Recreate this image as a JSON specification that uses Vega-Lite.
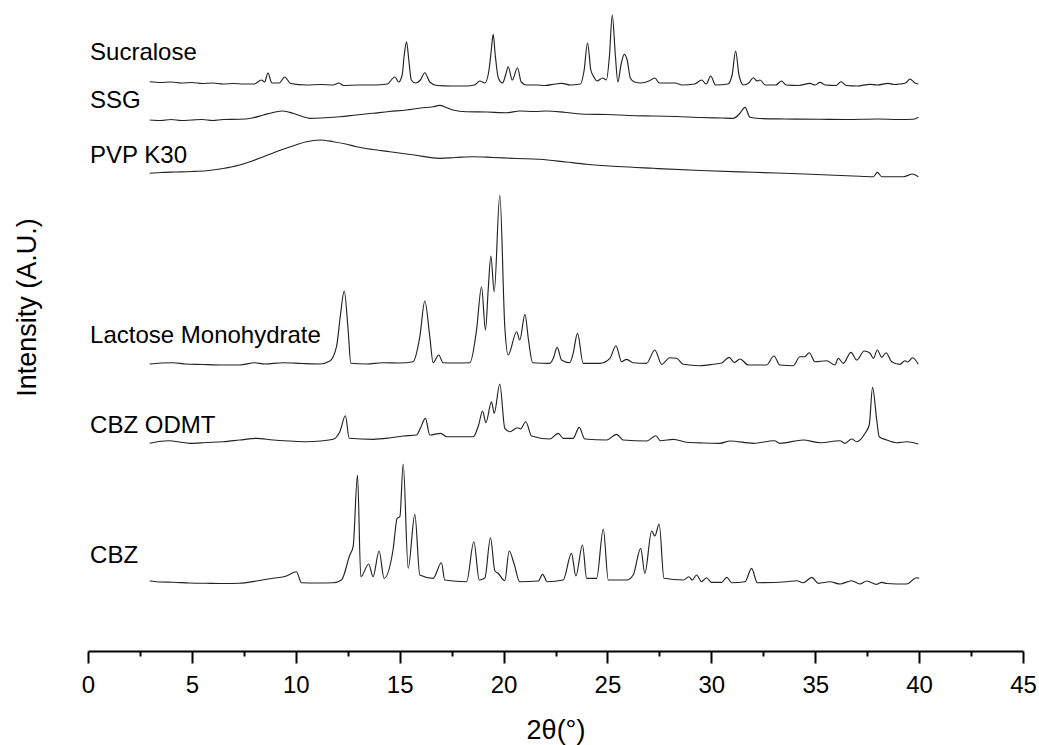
{
"$schema": "https://vega.github.io/schema/vega-lite/v6.json",
"width": 935, "height": 651,
"autosize": {"type": "none"},
"padding": {"left": 88, "top": 0, "right": 16, "bottom": 94},
"config": {"view": {"stroke": null}, "font": "Liberation Sans"},
"datasets": {
"traces": [
{"s":"Sucralose","x":2.97,"y":569.3},{"s":"Sucralose","x":3.5,"y":568.5},{"s":"Sucralose","x":4.0,"y":569},{"s":"Sucralose","x":4.5,"y":568},{"s":"Sucralose","x":5.0,"y":568.5},{"s":"Sucralose","x":5.5,"y":567.5},{"s":"Sucralose","x":6.0,"y":568},{"s":"Sucralose","x":6.5,"y":567},{"s":"Sucralose","x":7.0,"y":567.5},{"s":"Sucralose","x":7.5,"y":567},{"s":"Sucralose","x":8.0,"y":567},{"s":"Sucralose","x":8.35,"y":571},{"s":"Sucralose","x":8.5,"y":569},{"s":"Sucralose","x":8.66,"y":578},{"s":"Sucralose","x":8.85,"y":568},{"s":"Sucralose","x":9.2,"y":568},{"s":"Sucralose","x":9.47,"y":574},{"s":"Sucralose","x":9.75,"y":567.5},{"s":"Sucralose","x":10.5,"y":566},{"s":"Sucralose","x":11.2,"y":566.5},{"s":"Sucralose","x":11.8,"y":566},{"s":"Sucralose","x":12.07,"y":568},{"s":"Sucralose","x":12.3,"y":565.5},{"s":"Sucralose","x":13.0,"y":566},{"s":"Sucralose","x":13.8,"y":566},{"s":"Sucralose","x":14.4,"y":567},{"s":"Sucralose","x":14.77,"y":574},{"s":"Sucralose","x":14.95,"y":569},{"s":"Sucralose","x":15.12,"y":576},{"s":"Sucralose","x":15.22,"y":596},{"s":"Sucralose","x":15.33,"y":609.3},{"s":"Sucralose","x":15.44,"y":591},{"s":"Sucralose","x":15.56,"y":571},{"s":"Sucralose","x":15.75,"y":568},{"s":"Sucralose","x":16.0,"y":571},{"s":"Sucralose","x":16.21,"y":578.3},{"s":"Sucralose","x":16.45,"y":569},{"s":"Sucralose","x":16.8,"y":565.5},{"s":"Sucralose","x":17.5,"y":565},{"s":"Sucralose","x":18.2,"y":565},{"s":"Sucralose","x":18.6,"y":566},{"s":"Sucralose","x":18.86,"y":570},{"s":"Sucralose","x":19.1,"y":568},{"s":"Sucralose","x":19.3,"y":581},{"s":"Sucralose","x":19.42,"y":603},{"s":"Sucralose","x":19.5,"y":616.7},{"s":"Sucralose","x":19.6,"y":596},{"s":"Sucralose","x":19.75,"y":573},{"s":"Sucralose","x":19.95,"y":568},{"s":"Sucralose","x":20.1,"y":576},{"s":"Sucralose","x":20.22,"y":584.3},{"s":"Sucralose","x":20.42,"y":571},{"s":"Sucralose","x":20.67,"y":583.3},{"s":"Sucralose","x":20.85,"y":569},{"s":"Sucralose","x":21.1,"y":566},{"s":"Sucralose","x":21.6,"y":566},{"s":"Sucralose","x":22.0,"y":565.5},{"s":"Sucralose","x":22.5,"y":567},{"s":"Sucralose","x":22.8,"y":567.7},{"s":"Sucralose","x":23.2,"y":566},{"s":"Sucralose","x":23.7,"y":567},{"s":"Sucralose","x":23.88,"y":581},{"s":"Sucralose","x":24.04,"y":608.3},{"s":"Sucralose","x":24.2,"y":581},{"s":"Sucralose","x":24.35,"y":574},{"s":"Sucralose","x":24.5,"y":570},{"s":"Sucralose","x":24.77,"y":573},{"s":"Sucralose","x":24.95,"y":571},{"s":"Sucralose","x":25.1,"y":596},{"s":"Sucralose","x":25.23,"y":636},{"s":"Sucralose","x":25.38,"y":596},{"s":"Sucralose","x":25.5,"y":569},{"s":"Sucralose","x":25.65,"y":586},{"s":"Sucralose","x":25.81,"y":596.7},{"s":"Sucralose","x":25.95,"y":591},{"s":"Sucralose","x":26.1,"y":573},{"s":"Sucralose","x":26.3,"y":569},{"s":"Sucralose","x":26.6,"y":568},{"s":"Sucralose","x":27.0,"y":570},{"s":"Sucralose","x":27.28,"y":573},{"s":"Sucralose","x":27.5,"y":568},{"s":"Sucralose","x":28.25,"y":568},{"s":"Sucralose","x":28.6,"y":566},{"s":"Sucralose","x":29.2,"y":567},{"s":"Sucralose","x":29.53,"y":571},{"s":"Sucralose","x":29.75,"y":567},{"s":"Sucralose","x":29.97,"y":575},{"s":"Sucralose","x":30.2,"y":566},{"s":"Sucralose","x":30.8,"y":567},{"s":"Sucralose","x":31.0,"y":576},{"s":"Sucralose","x":31.17,"y":600},{"s":"Sucralose","x":31.33,"y":576},{"s":"Sucralose","x":31.55,"y":566},{"s":"Sucralose","x":31.8,"y":568},{"s":"Sucralose","x":32.02,"y":573.3},{"s":"Sucralose","x":32.2,"y":570},{"s":"Sucralose","x":32.34,"y":571},{"s":"Sucralose","x":32.6,"y":566},{"s":"Sucralose","x":33.1,"y":566},{"s":"Sucralose","x":33.38,"y":570},{"s":"Sucralose","x":33.6,"y":566},{"s":"Sucralose","x":34.2,"y":565.5},{"s":"Sucralose","x":34.75,"y":567.7},{"s":"Sucralose","x":35.0,"y":566},{"s":"Sucralose","x":35.23,"y":568.7},{"s":"Sucralose","x":35.5,"y":566},{"s":"Sucralose","x":36.0,"y":565.5},{"s":"Sucralose","x":36.24,"y":569.3},{"s":"Sucralose","x":36.5,"y":565.5},{"s":"Sucralose","x":37.0,"y":565},{"s":"Sucralose","x":37.64,"y":566.7},{"s":"Sucralose","x":38.0,"y":566},{"s":"Sucralose","x":38.52,"y":567.7},{"s":"Sucralose","x":38.8,"y":566.5},{"s":"Sucralose","x":39.08,"y":567},{"s":"Sucralose","x":39.35,"y":568},{"s":"Sucralose","x":39.56,"y":572},{"s":"Sucralose","x":39.8,"y":568},{"s":"Sucralose","x":39.96,"y":567},
{"s":"SSG","x":2.97,"y":531},{"s":"SSG","x":3.5,"y":530.5},{"s":"SSG","x":4.0,"y":531.5},{"s":"SSG","x":4.5,"y":530.5},{"s":"SSG","x":5.0,"y":531},{"s":"SSG","x":5.5,"y":531.5},{"s":"SSG","x":6.0,"y":530.5},{"s":"SSG","x":6.5,"y":531.5},{"s":"SSG","x":7.3,"y":531.7},{"s":"SSG","x":7.9,"y":533},{"s":"SSG","x":8.44,"y":536},{"s":"SSG","x":8.9,"y":538.5},{"s":"SSG","x":9.39,"y":540},{"s":"SSG","x":9.87,"y":537.7},{"s":"SSG","x":10.35,"y":534.3},{"s":"SSG","x":10.67,"y":532.7},{"s":"SSG","x":11.2,"y":533},{"s":"SSG","x":12.12,"y":534.3},{"s":"SSG","x":12.9,"y":536},{"s":"SSG","x":13.7,"y":537.7},{"s":"SSG","x":14.5,"y":539.5},{"s":"SSG","x":15.33,"y":541},{"s":"SSG","x":16.0,"y":543},{"s":"SSG","x":16.61,"y":544.3},{"s":"SSG","x":16.93,"y":545.7},{"s":"SSG","x":17.25,"y":543.5},{"s":"SSG","x":17.57,"y":541},{"s":"SSG","x":18.22,"y":539.3},{"s":"SSG","x":19.2,"y":539},{"s":"SSG","x":20.14,"y":538.3},{"s":"SSG","x":20.78,"y":540},{"s":"SSG","x":21.5,"y":539.5},{"s":"SSG","x":22.07,"y":540},{"s":"SSG","x":23.0,"y":538.5},{"s":"SSG","x":24.0,"y":536.7},{"s":"SSG","x":25.0,"y":536.5},{"s":"SSG","x":26.0,"y":535.5},{"s":"SSG","x":27.2,"y":535},{"s":"SSG","x":28.3,"y":534.5},{"s":"SSG","x":29.5,"y":533.5},{"s":"SSG","x":30.5,"y":533},{"s":"SSG","x":31.05,"y":532.7},{"s":"SSG","x":31.35,"y":537},{"s":"SSG","x":31.62,"y":543.7},{"s":"SSG","x":31.86,"y":533.7},{"s":"SSG","x":32.3,"y":532.5},{"s":"SSG","x":33.5,"y":532},{"s":"SSG","x":35.23,"y":531.7},{"s":"SSG","x":36.5,"y":531.5},{"s":"SSG","x":38.0,"y":532},{"s":"SSG","x":39.0,"y":531.5},{"s":"SSG","x":39.72,"y":531.7},{"s":"SSG","x":39.96,"y":533.7},
{"s":"PVP K30","x":2.97,"y":477.7},{"s":"PVP K30","x":3.5,"y":478.5},{"s":"PVP K30","x":4.2,"y":479},{"s":"PVP K30","x":5.0,"y":479.5},{"s":"PVP K30","x":5.7,"y":480.3},{"s":"PVP K30","x":6.5,"y":482.5},{"s":"PVP K30","x":7.3,"y":486},{"s":"PVP K30","x":7.9,"y":490},{"s":"PVP K30","x":8.44,"y":494.3},{"s":"PVP K30","x":9.39,"y":501.7},{"s":"PVP K30","x":10.0,"y":506},{"s":"PVP K30","x":10.51,"y":509.3},{"s":"PVP K30","x":11.16,"y":511},{"s":"PVP K30","x":11.8,"y":509.3},{"s":"PVP K30","x":12.4,"y":507},{"s":"PVP K30","x":12.92,"y":504.3},{"s":"PVP K30","x":13.7,"y":501.5},{"s":"PVP K30","x":14.53,"y":499.3},{"s":"PVP K30","x":15.7,"y":496},{"s":"PVP K30","x":16.93,"y":492.7},{"s":"PVP K30","x":17.7,"y":493.5},{"s":"PVP K30","x":18.54,"y":494.3},{"s":"PVP K30","x":19.5,"y":493.5},{"s":"PVP K30","x":20.6,"y":492.5},{"s":"PVP K30","x":21.75,"y":491.7},{"s":"PVP K30","x":23.0,"y":489},{"s":"PVP K30","x":24.0,"y":486.7},{"s":"PVP K30","x":25.5,"y":484.5},{"s":"PVP K30","x":27.2,"y":482.7},{"s":"PVP K30","x":29.5,"y":480.5},{"s":"PVP K30","x":32.02,"y":478.7},{"s":"PVP K30","x":34.5,"y":477},{"s":"PVP K30","x":36.83,"y":475},{"s":"PVP K30","x":37.8,"y":474.3},{"s":"PVP K30","x":37.99,"y":478.7},{"s":"PVP K30","x":38.2,"y":474.3},{"s":"PVP K30","x":39.24,"y":474.3},{"s":"PVP K30","x":39.69,"y":477},{"s":"PVP K30","x":39.96,"y":474.3},
{"s":"Lactose","x":2.97,"y":287},{"s":"Lactose","x":3.5,"y":288},{"s":"Lactose","x":4.09,"y":288.3},{"s":"Lactose","x":4.7,"y":287},{"s":"Lactose","x":5.5,"y":286.5},{"s":"Lactose","x":6.4,"y":286},{"s":"Lactose","x":7.3,"y":286},{"s":"Lactose","x":8.03,"y":288.3},{"s":"Lactose","x":8.5,"y":287},{"s":"Lactose","x":9.39,"y":288.3},{"s":"Lactose","x":10.3,"y":287.5},{"s":"Lactose","x":11.16,"y":287},{"s":"Lactose","x":11.64,"y":290},{"s":"Lactose","x":11.96,"y":304.3},{"s":"Lactose","x":12.15,"y":336},{"s":"Lactose","x":12.33,"y":360},{"s":"Lactose","x":12.52,"y":321},{"s":"Lactose","x":12.65,"y":287.7},{"s":"Lactose","x":13.4,"y":287},{"s":"Lactose","x":14.2,"y":288.3},{"s":"Lactose","x":15.0,"y":288},{"s":"Lactose","x":15.65,"y":289.3},{"s":"Lactose","x":15.97,"y":314.3},{"s":"Lactose","x":16.21,"y":350},{"s":"Lactose","x":16.45,"y":314.3},{"s":"Lactose","x":16.61,"y":288.3},{"s":"Lactose","x":16.88,"y":296},{"s":"Lactose","x":17.09,"y":288.3},{"s":"Lactose","x":17.7,"y":288},{"s":"Lactose","x":18.38,"y":288.3},{"s":"Lactose","x":18.7,"y":321},{"s":"Lactose","x":18.94,"y":364.3},{"s":"Lactose","x":19.13,"y":321},{"s":"Lactose","x":19.26,"y":361},{"s":"Lactose","x":19.39,"y":395},{"s":"Lactose","x":19.55,"y":359.3},{"s":"Lactose","x":19.82,"y":456},{"s":"Lactose","x":20.06,"y":324.3},{"s":"Lactose","x":20.22,"y":296},{"s":"Lactose","x":20.63,"y":319.3},{"s":"Lactose","x":20.78,"y":311},{"s":"Lactose","x":21.03,"y":336.7},{"s":"Lactose","x":21.2,"y":311},{"s":"Lactose","x":21.4,"y":288.3},{"s":"Lactose","x":22.23,"y":287.7},{"s":"Lactose","x":22.4,"y":293},{"s":"Lactose","x":22.58,"y":303.7},{"s":"Lactose","x":22.79,"y":291},{"s":"Lactose","x":23.19,"y":288.3},{"s":"Lactose","x":23.35,"y":297.7},{"s":"Lactose","x":23.56,"y":317.7},{"s":"Lactose","x":23.83,"y":287.7},{"s":"Lactose","x":24.64,"y":287.7},{"s":"Lactose","x":25.12,"y":292.7},{"s":"Lactose","x":25.41,"y":305.3},{"s":"Lactose","x":25.68,"y":289.3},{"s":"Lactose","x":25.92,"y":291.7},{"s":"Lactose","x":26.24,"y":288.3},{"s":"Lactose","x":26.88,"y":287.7},{"s":"Lactose","x":27.28,"y":301},{"s":"Lactose","x":27.61,"y":286.7},{"s":"Lactose","x":28.0,"y":293.3},{"s":"Lactose","x":28.33,"y":292.7},{"s":"Lactose","x":28.65,"y":286.7},{"s":"Lactose","x":29.45,"y":285.3},{"s":"Lactose","x":30.09,"y":286.7},{"s":"Lactose","x":30.5,"y":288},{"s":"Lactose","x":30.86,"y":293.7},{"s":"Lactose","x":31.1,"y":288.5},{"s":"Lactose","x":31.38,"y":292},{"s":"Lactose","x":31.78,"y":286},{"s":"Lactose","x":32.66,"y":286},{"s":"Lactose","x":33.01,"y":295},{"s":"Lactose","x":33.3,"y":286},{"s":"Lactose","x":33.94,"y":285.3},{"s":"Lactose","x":34.26,"y":294.3},{"s":"Lactose","x":34.5,"y":294.3},{"s":"Lactose","x":34.71,"y":298.3},{"s":"Lactose","x":34.99,"y":289.3},{"s":"Lactose","x":35.55,"y":290.3},{"s":"Lactose","x":35.95,"y":286},{"s":"Lactose","x":36.11,"y":292.7},{"s":"Lactose","x":36.35,"y":287.7},{"s":"Lactose","x":36.72,"y":298.7},{"s":"Lactose","x":37.0,"y":291},{"s":"Lactose","x":37.36,"y":300},{"s":"Lactose","x":37.64,"y":297.7},{"s":"Lactose","x":37.8,"y":292.7},{"s":"Lactose","x":37.99,"y":301},{"s":"Lactose","x":38.2,"y":293.7},{"s":"Lactose","x":38.41,"y":298.3},{"s":"Lactose","x":38.68,"y":289.3},{"s":"Lactose","x":39.08,"y":286.7},{"s":"Lactose","x":39.32,"y":290.3},{"s":"Lactose","x":39.45,"y":289},{"s":"Lactose","x":39.69,"y":293.3},{"s":"Lactose","x":39.96,"y":286.7},
{"s":"CBZ ODMT","x":2.97,"y":207.7},{"s":"CBZ ODMT","x":3.4,"y":209.5},{"s":"CBZ ODMT","x":3.93,"y":210.3},{"s":"CBZ ODMT","x":4.4,"y":209},{"s":"CBZ ODMT","x":4.9,"y":207.7},{"s":"CBZ ODMT","x":5.7,"y":208.5},{"s":"CBZ ODMT","x":6.5,"y":209.3},{"s":"CBZ ODMT","x":7.3,"y":211},{"s":"CBZ ODMT","x":8.11,"y":212.7},{"s":"CBZ ODMT","x":8.91,"y":211},{"s":"CBZ ODMT","x":9.7,"y":210},{"s":"CBZ ODMT","x":10.51,"y":209.3},{"s":"CBZ ODMT","x":11.2,"y":210},{"s":"CBZ ODMT","x":11.8,"y":211.7},{"s":"CBZ ODMT","x":12.12,"y":219.3},{"s":"CBZ ODMT","x":12.39,"y":235.3},{"s":"CBZ ODMT","x":12.57,"y":212.7},{"s":"CBZ ODMT","x":13.72,"y":211.7},{"s":"CBZ ODMT","x":14.5,"y":213},{"s":"CBZ ODMT","x":15.17,"y":215},{"s":"CBZ ODMT","x":15.81,"y":216},{"s":"CBZ ODMT","x":16.0,"y":223},{"s":"CBZ ODMT","x":16.24,"y":232.7},{"s":"CBZ ODMT","x":16.45,"y":216},{"s":"CBZ ODMT","x":16.98,"y":217.7},{"s":"CBZ ODMT","x":17.26,"y":214.3},{"s":"CBZ ODMT","x":18.54,"y":214.3},{"s":"CBZ ODMT","x":18.8,"y":226},{"s":"CBZ ODMT","x":18.99,"y":240},{"s":"CBZ ODMT","x":19.15,"y":228.3},{"s":"CBZ ODMT","x":19.42,"y":249.3},{"s":"CBZ ODMT","x":19.55,"y":237.7},{"s":"CBZ ODMT","x":19.82,"y":267},{"s":"CBZ ODMT","x":20.06,"y":222.7},{"s":"CBZ ODMT","x":20.3,"y":219.3},{"s":"CBZ ODMT","x":20.67,"y":223.3},{"s":"CBZ ODMT","x":20.82,"y":222},{"s":"CBZ ODMT","x":21.07,"y":229.3},{"s":"CBZ ODMT","x":21.35,"y":215},{"s":"CBZ ODMT","x":22.23,"y":212},{"s":"CBZ ODMT","x":22.63,"y":217.7},{"s":"CBZ ODMT","x":22.87,"y":212.7},{"s":"CBZ ODMT","x":23.35,"y":212.7},{"s":"CBZ ODMT","x":23.64,"y":223.7},{"s":"CBZ ODMT","x":23.91,"y":212},{"s":"CBZ ODMT","x":24.96,"y":211},{"s":"CBZ ODMT","x":25.44,"y":216.7},{"s":"CBZ ODMT","x":25.76,"y":211},{"s":"CBZ ODMT","x":26.88,"y":210},{"s":"CBZ ODMT","x":27.33,"y":215.3},{"s":"CBZ ODMT","x":27.55,"y":210.3},{"s":"CBZ ODMT","x":28.17,"y":211.7},{"s":"CBZ ODMT","x":28.81,"y":208.7},{"s":"CBZ ODMT","x":29.6,"y":208},{"s":"CBZ ODMT","x":30.41,"y":207.7},{"s":"CBZ ODMT","x":30.9,"y":210},{"s":"CBZ ODMT","x":32.02,"y":207.7},{"s":"CBZ ODMT","x":33.03,"y":210.3},{"s":"CBZ ODMT","x":33.3,"y":207.7},{"s":"CBZ ODMT","x":34.42,"y":211},{"s":"CBZ ODMT","x":35.23,"y":208.3},{"s":"CBZ ODMT","x":36.19,"y":210.3},{"s":"CBZ ODMT","x":36.43,"y":207.7},{"s":"CBZ ODMT","x":36.75,"y":212},{"s":"CBZ ODMT","x":37.0,"y":209.3},{"s":"CBZ ODMT","x":37.4,"y":217.7},{"s":"CBZ ODMT","x":37.6,"y":226},{"s":"CBZ ODMT","x":37.76,"y":263.7},{"s":"CBZ ODMT","x":37.96,"y":231},{"s":"CBZ ODMT","x":38.08,"y":214.3},{"s":"CBZ ODMT","x":38.44,"y":211},{"s":"CBZ ODMT","x":38.92,"y":208.3},{"s":"CBZ ODMT","x":39.4,"y":209.3},{"s":"CBZ ODMT","x":39.96,"y":207},
{"s":"CBZ","x":2.97,"y":70},{"s":"CBZ","x":3.5,"y":69},{"s":"CBZ","x":4.09,"y":68.7},{"s":"CBZ","x":4.9,"y":68},{"s":"CBZ","x":5.7,"y":67.7},{"s":"CBZ","x":6.5,"y":67.5},{"s":"CBZ","x":7.3,"y":67.7},{"s":"CBZ","x":8.1,"y":70},{"s":"CBZ","x":8.91,"y":72.7},{"s":"CBZ","x":9.55,"y":75},{"s":"CBZ","x":10.03,"y":79.3},{"s":"CBZ","x":10.27,"y":68.3},{"s":"CBZ","x":11.0,"y":68},{"s":"CBZ","x":11.8,"y":68.3},{"s":"CBZ","x":12.2,"y":71},{"s":"CBZ","x":12.6,"y":96},{"s":"CBZ","x":12.76,"y":104.3},{"s":"CBZ","x":12.97,"y":176},{"s":"CBZ","x":13.13,"y":74.3},{"s":"CBZ","x":13.51,"y":87},{"s":"CBZ","x":13.72,"y":74.3},{"s":"CBZ","x":14.01,"y":100},{"s":"CBZ","x":14.25,"y":72.7},{"s":"CBZ","x":14.68,"y":101},{"s":"CBZ","x":14.88,"y":132.7},{"s":"CBZ","x":15.01,"y":134.3},{"s":"CBZ","x":15.17,"y":187},{"s":"CBZ","x":15.41,"y":82.7},{"s":"CBZ","x":15.73,"y":136.7},{"s":"CBZ","x":15.97,"y":76},{"s":"CBZ","x":16.61,"y":72.7},{"s":"CBZ","x":17.01,"y":88.3},{"s":"CBZ","x":17.17,"y":71},{"s":"CBZ","x":18.22,"y":69.3},{"s":"CBZ","x":18.57,"y":109.3},{"s":"CBZ","x":18.83,"y":71},{"s":"CBZ","x":19.1,"y":73},{"s":"CBZ","x":19.37,"y":113.3},{"s":"CBZ","x":19.58,"y":80.3},{"s":"CBZ","x":19.74,"y":77.7},{"s":"CBZ","x":20.06,"y":70.3},{"s":"CBZ","x":20.27,"y":100},{"s":"CBZ","x":20.5,"y":87.7},{"s":"CBZ","x":20.78,"y":69.3},{"s":"CBZ","x":21.67,"y":70},{"s":"CBZ","x":21.88,"y":76.7},{"s":"CBZ","x":22.1,"y":69.3},{"s":"CBZ","x":22.87,"y":71},{"s":"CBZ","x":23.27,"y":97.7},{"s":"CBZ","x":23.48,"y":75},{"s":"CBZ","x":23.8,"y":106},{"s":"CBZ","x":24.0,"y":72.7},{"s":"CBZ","x":24.48,"y":72.7},{"s":"CBZ","x":24.8,"y":122},{"s":"CBZ","x":25.04,"y":71},{"s":"CBZ","x":25.92,"y":71},{"s":"CBZ","x":26.24,"y":76},{"s":"CBZ","x":26.6,"y":102.7},{"s":"CBZ","x":26.8,"y":77.7},{"s":"CBZ","x":27.13,"y":120},{"s":"CBZ","x":27.28,"y":115},{"s":"CBZ","x":27.49,"y":127},{"s":"CBZ","x":27.72,"y":72.7},{"s":"CBZ","x":28.65,"y":71},{"s":"CBZ","x":28.92,"y":74.3},{"s":"CBZ","x":29.08,"y":71},{"s":"CBZ","x":29.29,"y":76},{"s":"CBZ","x":29.53,"y":69.3},{"s":"CBZ","x":29.77,"y":73.3},{"s":"CBZ","x":30.01,"y":68.7},{"s":"CBZ","x":30.5,"y":68.7},{"s":"CBZ","x":30.74,"y":73.7},{"s":"CBZ","x":30.98,"y":68.3},{"s":"CBZ","x":31.62,"y":69.3},{"s":"CBZ","x":31.94,"y":82.7},{"s":"CBZ","x":32.21,"y":68.3},{"s":"CBZ","x":33.63,"y":69.3},{"s":"CBZ","x":34.11,"y":70.3},{"s":"CBZ","x":34.42,"y":68.3},{"s":"CBZ","x":34.84,"y":73.7},{"s":"CBZ","x":35.15,"y":67.7},{"s":"CBZ","x":35.71,"y":69.3},{"s":"CBZ","x":36.19,"y":67},{"s":"CBZ","x":36.75,"y":70.3},{"s":"CBZ","x":37.15,"y":67},{"s":"CBZ","x":37.48,"y":70},{"s":"CBZ","x":37.96,"y":66.7},{"s":"CBZ","x":38.2,"y":68.7},{"s":"CBZ","x":38.44,"y":67.5},{"s":"CBZ","x":39.4,"y":67},{"s":"CBZ","x":39.88,"y":73.3},{"s":"CBZ","x":40.0,"y":72.7}
],
"labels": [
{"label":"Sucralose","x":0.1,"y":591},
{"label":"SSG","x":0.1,"y":543},
{"label":"PVP K30","x":0.1,"y":488},
{"label":"Lactose Monohydrate","x":0.1,"y":308},
{"label":"CBZ ODMT","x":0.1,"y":218},
{"label":"CBZ","x":0.1,"y":88}
]
},
"layer": [
{
"data": {"name": "traces"},
"mark": {"type": "line", "color": "#222222", "strokeWidth": 1.15, "interpolate": "monotone"},
"encoding": {
"x": {"field": "x", "type": "quantitative",
"scale": {"domain": [0, 45], "nice": false, "zero": false},
"axis": {"values": [0,2.5,5,7.5,10,12.5,15,17.5,20,22.5,25,27.5,30,32.5,35,37.5,40,42.5,45],
"title": "2θ(°)", "titleFontSize": 27, "titleFontWeight": "normal", "titleColor": "#000", "titleFont": "Liberation Sans",
"titleBaseline": "alphabetic", "titleY": 87, "titlePadding": 0,
"labelExpr": "datum.value % 5 === 0 ? format(datum.value, 'd') : ''",
"labelFontSize": 24, "labelFont": "Liberation Sans", "labelColor": "#000", "labelPadding": 10,
"labelOverlap": false, "labelFlush": false,
"tickSize": {"condition": {"test": "datum.value % 5 === 0", "value": 12}, "value": 5},
"tickWidth": 2, "tickColor": "#000", "domainWidth": 2, "domainColor": "#000", "grid": false}},
"y": {"field": "y", "type": "quantitative",
"scale": {"domain": [0, 651], "nice": false, "zero": false},
"axis": {"title": "Intensity (A.U.)", "labels": false, "ticks": false, "domain": false, "grid": false,
"titleFontSize": 27, "titleFontWeight": "normal", "titleColor": "#000", "titleFont": "Liberation Sans",
"titleAngle": -90, "titleX": -53, "titleY": 307, "titleBaseline": "alphabetic", "titleAlign": "center"}},
"detail": {"field": "s", "type": "nominal"}
}
},
{
"data": {"name": "labels"},
"mark": {"type": "text", "align": "left", "baseline": "alphabetic", "fontSize": 24, "font": "Liberation Sans", "color": "#000"},
"encoding": {
"x": {"field": "x", "type": "quantitative"},
"y": {"field": "y", "type": "quantitative"},
"text": {"field": "label", "type": "nominal"}
}
}
]
}
